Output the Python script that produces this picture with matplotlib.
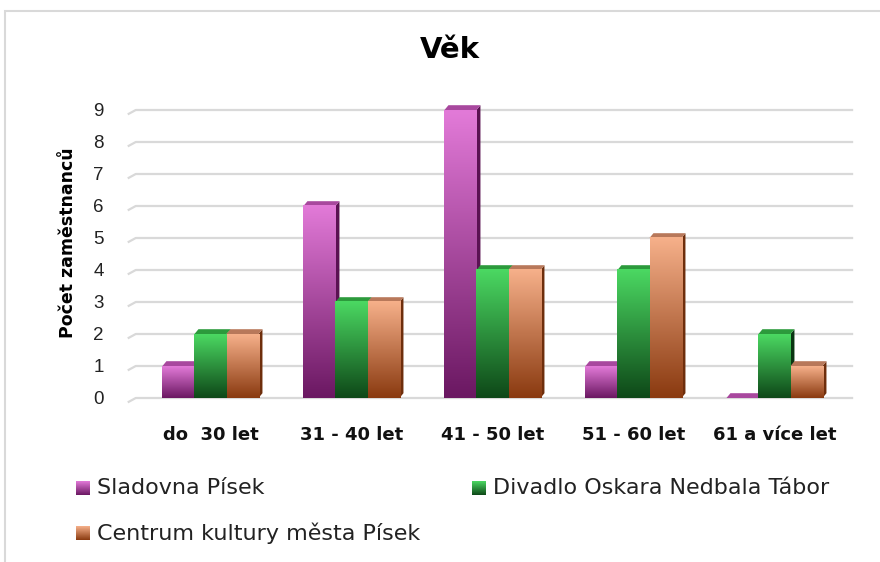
import numpy as np
import matplotlib.pyplot as plt
from matplotlib.colors import LinearSegmentedColormap
from matplotlib.patches import Polygon, Rectangle

categories = ["do  30 let", "31 - 40 let", "41 - 50 let", "51 - 60 let", "61 a více let"]
series_names = ["Sladovna Písek", "Divadlo Oskara Nedbala Tábor", "Centrum kultury města Písek"]
sladovna = [1, 6, 9, 1, 0]
divadlo = [2, 3, 4, 4, 2]
centrum = [2, 3, 4, 5, 1]
values = [sladovna, divadlo, centrum]

# top colour, bottom colour, top face, side face
colors = [
    ("#e27ad8", "#6b1862", "#a8489e", "#5a1252"),
    ("#4bd862", "#0e4818", "#2c9a3c", "#0a3512"),
    ("#f6b08a", "#8a3a10", "#b8785a", "#6e2e0c"),
]

fig = plt.figure(figsize=(8.8, 5.62), dpi=100)
ax = fig.add_axes([140 / 880, 1 - 398 / 562, 705 / 880, 288 / 562])

# outer frame
fig.patches.append(Rectangle((5 / 880, -0.1), 1.2, 1 - 11 / 562 + 0.1, transform=fig.transFigure,
                             fill=False, edgecolor="#d9d9d9", lw=1.5, zorder=0))

w = 0.227
dx, dy = 0.028, 0.15
grad = np.linspace(1, 0, 100).reshape(-1, 1)

for t in range(10):
    ax.plot([-0.58, -0.53, 4.55], [t - 0.12, t, t], color="#d9d9d9", lw=1.6, zorder=0, clip_on=False)

for j, vals in enumerate(values):
    top, bot, face, side = colors[j]
    cmap = LinearSegmentedColormap.from_list("c%d" % j, [bot, top])
    for i, v in enumerate(vals):
        x0 = i + (j - 1) * w - w / 2
        x1 = x0 + w
        z = 2 + j
        ax.add_patch(Polygon([(x1, 0), (x1 + dx, dy), (x1 + dx, v + dy), (x1, v)],
                             closed=True, color=side, lw=0, zorder=z, clip_on=False))
        ax.add_patch(Polygon([(x0, v), (x0 + dx, v + dy), (x1 + dx, v + dy), (x1, v)],
                             closed=True, color=face, lw=0, zorder=z, clip_on=False))
        if v > 0:
            ax.imshow(grad, extent=[x0, x1, 0, v], aspect="auto", cmap=cmap,
                      zorder=z, interpolation="bicubic", clip_on=False)

ax.set_xlim(-0.5, 4.5)
ax.set_ylim(0, 9)
for s in ax.spines.values():
    s.set_visible(False)
ax.set_yticks(range(10))
ax.set_yticklabels([str(t) for t in range(10)], fontsize=13.5, color="#222222",
                   family=["Liberation Sans", "DejaVu Sans"])
ax.tick_params(axis="y", length=0, pad=26)
ax.set_xticks(range(5))
ax.set_xticklabels(categories, fontsize=13, fontweight="bold", color="#111111")
ax.tick_params(axis="x", length=0, pad=20)

fig.text(68 / 880, 1 - 243 / 562, "Počet zaměstnanců", rotation=90, ha="center", va="center",
         fontsize=12.5, fontweight="bold")

fig.text(450 / 880, 1 - 50 / 562, "Věk", ha="center", va="center", fontsize=21,
         fontweight="bold")

# legend
leg_pos = [(76, 488), (472, 488), (76, 533)]
for j, name in enumerate(series_names):
    lx, ly = leg_pos[j]
    top, bot, face, side = colors[j]
    lax = fig.add_axes([lx / 880, 1 - (ly + 7) / 562, 14 / 880, 14 / 562])
    lax.imshow(grad, aspect="auto", cmap=LinearSegmentedColormap.from_list("l%d" % j, [bot, top]),
               extent=[0, 1, 0, 1])
    lax.axis("off")
    fig.text((lx + 21) / 880, 1 - ly / 562, name, ha="left", va="center", fontsize=16,
             color="#222222")

fig.savefig("out.png", dpi=100)
